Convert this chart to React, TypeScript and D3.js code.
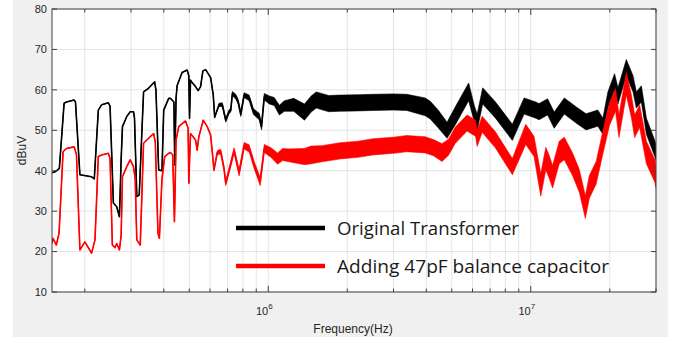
import React from "react";
import * as d3 from "d3";

// y axis ticks (dBuV)
const levelTicks = [10, 20, 30, 40, 50, 60, 70, 80];
// labelled decades on the frequency axis
const decadeTicks = [1e6, 1e7];

// trace points: [frequency MHz, level dBuV, noise half-width dB]
const originalTrace: [number, number, number][] = [
  [0.15, 39.5, 0], [0.155, 39.8, 0], [0.16, 40.6, 0], [0.1668, 56.7, 0],
  [0.1702, 57.0, 0], [0.1822, 57.5, 0], [0.1843, 57.0, 0], [0.1916, 39.0, 0],
  [0.2122, 38.5, 0], [0.2174, 38.0, 0], [0.2252, 55.0, 0], [0.2318, 56.3, 0],
  [0.2459, 56.8, 0], [0.2496, 56.0, 0], [0.257, 32.0, 0], [0.2646, 31.1, 0],
  [0.271, 28.6, 0], [0.2751, 42.7, 0], [0.2783, 50.9, 0], [0.289, 53.4, 0],
  [0.2979, 54.6, 0], [0.3066, 54.6, 0], [0.3093, 53.0, 0], [0.3156, 33.6, 0],
  [0.3224, 34.0, 0], [0.3349, 59.5, 0], [0.35, 60.4, 0], [0.369, 62.0, 0],
  [0.3733, 60.0, 0], [0.3824, 40.2, 0], [0.3936, 40.0, 0], [0.3996, 55.0, 0],
  [0.4176, 57.9, 0], [0.4239, 57.9, 0], [0.437, 57.0, 0], [0.4403, 41.4, 0],
  [0.4454, 58.0, 0], [0.4494, 61.0, 0], [0.4695, 64.3, 0], [0.4907, 64.9, 0],
  [0.4981, 63.5, 0], [0.5012, 53.0, 0], [0.5056, 62.4, 0], [0.5101, 62.0, 0],
  [0.5284, 60.8, 0], [0.5406, 59.8, 0], [0.5522, 60.8, 0], [0.5636, 64.7, 0],
  [0.5772, 65.0, 0], [0.5942, 63.7, 0], [0.6033, 63.0, 0], [0.6172, 58.7, 0],
  [0.625, 53.2, 0], [0.6492, 56.3, 0.4], [0.6683, 56.3, 0.5], [0.6886, 52.5, 0.5],
  [0.709, 54.6, 0.5], [0.7197, 55.0, 0.5], [0.7299, 59.1, 0.5], [0.7522, 58.3, 0.6],
  [0.7675, 57.1, 0.6], [0.7859, 54.0, 0.6], [0.8091, 58.7, 0.6], [0.8456, 58.0, 0.7],
  [0.8784, 54.6, 0.7], [0.9237, 53.4, 0.8], [0.9426, 50.9, 0.8], [0.9654, 58.3, 0.8],
  [1.009, 57.5, 1.0], [1.054, 57.1, 1.0], [1.102, 55.0, 1.2], [1.152, 56.0, 1.3],
  [1.25, 56.3, 1.6], [1.374, 54.5, 2.0], [1.457, 56.5, 2.0], [1.523, 57.5, 2.0],
  [1.7, 56.6, 2.0], [1.871, 56.7, 2.0], [2.2, 56.8, 2.0], [2.503, 56.9, 2.0],
  [3.0, 57.0, 2.0], [3.37, 56.9, 2.0], [3.96, 55.8, 2.2], [4.14, 55.0, 2.2],
  [4.44, 52.8, 2.2], [4.8, 50.0, 2.0], [5.16, 53.6, 2.2], [5.8, 59.5, 2.2],
  [6.1, 54.0, 2.0], [6.25, 52.0, 2.0], [6.56, 58.5, 2.0], [7.34, 55.0, 2.0],
  [8.51, 49.5, 2.0], [9.43, 56.0, 2.0], [10.45, 55.0, 2.0], [10.76, 54.6, 2.0],
  [11.59, 55.8, 2.0], [12.28, 52.5, 2.0], [13.42, 56.0, 2.0], [14.88, 53.8, 2.0],
  [16.24, 52.1, 2.0], [18.01, 53.0, 2.0], [18.83, 51.0, 2.0], [19.67, 57.5, 2.0],
  [20.86, 62.0, 2.0], [21.49, 58.5, 2.0], [23.12, 65.5, 2.0], [24.53, 61.5, 2.0],
  [25.25, 57.5, 2.0], [26.39, 59.0, 2.0], [27.58, 51.0, 2.0], [29.68, 45.5, 2.0],
  [30, 44.5, 2.0],
];

const balancedTrace: [number, number, number][] = [
  [0.15, 22.0, 0], [0.1514, 23.3, 0], [0.1558, 21.6, 0], [0.1596, 24.6, 0],
  [0.1653, 44.7, 0], [0.1702, 45.5, 0], [0.1822, 45.9, 0], [0.1859, 44.0, 0],
  [0.1916, 20.4, 0], [0.2002, 22.4, 0], [0.2062, 21.0, 0], [0.2122, 19.6, 0],
  [0.2187, 22.9, 0], [0.2252, 43.5, 0], [0.2318, 43.9, 0], [0.2459, 44.3, 0],
  [0.2496, 43.0, 0], [0.2547, 21.6, 0], [0.2609, 21.0, 0], [0.2646, 22.0, 0],
  [0.271, 20.4, 0], [0.2751, 24.0, 0], [0.2783, 38.5, 0], [0.289, 41.0, 0],
  [0.2979, 42.7, 0], [0.3066, 41.0, 0], [0.3112, 38.0, 0], [0.3156, 22.9, 0],
  [0.3253, 21.6, 0], [0.3349, 46.8, 0], [0.3448, 47.6, 0], [0.3603, 48.8, 0],
  [0.3658, 49.2, 0], [0.3713, 47.0, 0], [0.38, 24.5, 0], [0.3848, 23.3, 0],
  [0.3936, 38.0, 0], [0.4032, 43.5, 0], [0.4176, 44.3, 0], [0.4239, 44.5, 0],
  [0.4325, 43.9, 0], [0.4391, 27.4, 0], [0.4454, 47.6, 0], [0.456, 50.9, 0],
  [0.4629, 51.3, 0], [0.4839, 52.3, 0], [0.495, 50.5, 0], [0.4981, 36.9, 0],
  [0.5056, 49.2, 0], [0.5284, 47.6, 0], [0.5359, 45.1, 0], [0.544, 48.4, 0],
  [0.5651, 52.5, 0], [0.5854, 50.9, 0], [0.6033, 48.8, 0], [0.6211, 40.2, 0.3],
  [0.6394, 44.5, 0.5], [0.659, 44.7, 0.6], [0.6784, 40.5, 0.6], [0.6886, 36.9, 0.6],
  [0.7197, 41.7, 0.7], [0.741, 45.0, 0.7], [0.7743, 39.5, 0.8], [0.8091, 46.2, 0.8],
  [0.8456, 45.5, 0.9], [0.8838, 41.4, 0.9], [0.9318, 37.3, 1.0], [0.9654, 45.5, 1.0],
  [1.024, 44.5, 1.2], [1.085, 43.0, 1.4], [1.134, 44.0, 1.5], [1.2, 43.8, 1.6],
  [1.374, 43.5, 2.0], [1.457, 43.9, 2.2], [1.6, 44.2, 2.0], [1.871, 44.9, 2.0],
  [2.2, 45.3, 2.0], [2.503, 45.9, 2.0], [3.0, 46.3, 2.0], [3.37, 46.7, 2.0],
  [3.96, 46.4, 2.0], [4.26, 45.7, 2.0], [4.59, 44.5, 2.2], [4.86, 45.8, 2.0],
  [5.16, 48.8, 2.0], [5.72, 51.8, 2.0], [6.16, 50.5, 2.0], [6.25, 48.0, 2.0],
  [6.53, 51.5, 2.0], [7.34, 47.6, 2.0], [8.51, 41.0, 2.0], [9.57, 49.0, 2.5],
  [10.29, 46.0, 2.5], [10.92, 36.5, 2.8], [11.41, 43.0, 2.8], [11.75, 41.0, 2.8],
  [12.11, 38.5, 2.8], [12.84, 44.5, 2.8], [13.42, 45.5, 2.8], [14.45, 41.5, 2.8],
  [15.31, 37.5, 2.8], [16.14, 31.0, 2.8], [16.72, 36.0, 2.8], [17.75, 39.5, 2.8],
  [18.83, 47.0, 2.8], [19.95, 54.0, 2.8], [21.04, 57.5, 2.8], [21.68, 51.0, 2.8],
  [23.12, 61.5, 2.8], [24.16, 56.0, 2.8], [24.88, 51.0, 2.8], [25.99, 53.5, 2.8],
  [27.58, 44.5, 2.8], [29.68, 40.0, 2.8], [30, 38.5, 2.8],
];

const legendItems = [
  { label: "Original Transformer", color: "#000000", width: 182 },
  { label: "Adding 47pF balance capacitor", color: "#ff0000", width: 272 },
];

const W = 682;
const H = 343;
const m = { left: 52, right: 656, top: 9, bottom: 292 };

export default function App() {
  const x = d3.scaleLog().domain([0.15e6, 30e6]).range([m.left, m.right]);
  const y = d3.scaleLinear().domain([10, 80]).range([m.bottom, m.top]);
  const allTicks = x.ticks(); // 2e5 ... 3e7 (every multiple)

  const line = d3
    .line<[number, number, number]>()
    .x((d) => x(d[0] * 1e6))
    .y((d) => y(d[1]));
  const band = d3
    .area<[number, number, number]>()
    .x((d) => x(d[0] * 1e6))
    .y0((d) => y(d[1] - d[2]))
    .y1((d) => y(d[1] + d[2]));

  const axisColor = "#404040";
  const font = "'Liberation Sans', Arial, sans-serif";

  const drawTrace = (data: [number, number, number][], color: string) => (
    <g>
      <path d={band(data) || ""} fill={color} stroke={color} strokeWidth={0.6} />
      <path d={line(data) || ""} fill="none" stroke={color} strokeWidth={1.6} strokeLinejoin="round" />
    </g>
  );

  return (
    <svg width={W} height={H} style={{ position: "absolute", left: 0, top: 0 }}>
      <rect x={0} y={0} width={W} height={H} fill="#ffffff" />
      <rect x={13} y={0} width={655} height={337} fill="#f0f0f0" />
      <rect x={m.left} y={m.top} width={m.right - m.left} height={m.bottom - m.top} fill="#ffffff" />
      <defs>
        <clipPath id="plot">
          <rect x={m.left} y={m.top} width={m.right - m.left} height={m.bottom - m.top} />
        </clipPath>
      </defs>

      {/* grid */}
      <g stroke="#e4e4e4" strokeWidth={1}>
        {allTicks.map((t) => (
          <line key={"gx" + t} x1={x(t)} x2={x(t)} y1={m.top} y2={m.bottom} />
        ))}
        {levelTicks.map((t) => (
          <line key={"gy" + t} x1={m.left} x2={m.right} y1={y(t)} y2={y(t)} />
        ))}
      </g>

      <g clipPath="url(#plot)">
        {drawTrace(originalTrace, "#000000")}
        {drawTrace(balancedTrace, "#ff0000")}
      </g>

      {/* legend, no box */}
      {legendItems.map((d, i) => {
        const ly = 228 + i * 38;
        return (
          <g key={d.label}>
            <line x1={236} x2={325} y1={ly} y2={ly} stroke={d.color} strokeWidth={4.5} />
            <text
              x={337}
              y={ly + 7}
              fontFamily="'Open Sans', 'Noto Sans', sans-serif"
              fontSize={19}
              fill="#1a1a1a"
              textLength={d.width}
              lengthAdjust="spacingAndGlyphs"
            >
              {d.label}
            </text>
          </g>
        );
      })}

      {/* axes box */}
      <rect
        x={m.left}
        y={m.top}
        width={m.right - m.left}
        height={m.bottom - m.top}
        fill="none"
        stroke={axisColor}
        strokeWidth={1}
      />
      <g stroke={axisColor} strokeWidth={1}>
        {allTicks.map((t) => {
          const len = decadeTicks.includes(t) ? 6 : 3.5;
          return (
            <g key={"tx" + t}>
              <line x1={x(t)} x2={x(t)} y1={m.bottom} y2={m.bottom - len} />
              <line x1={x(t)} x2={x(t)} y1={m.top} y2={m.top + len} />
            </g>
          );
        })}
        {levelTicks.map((t) => (
          <g key={"ty" + t}>
            <line x1={m.left} x2={m.left + 5} y1={y(t)} y2={y(t)} />
            <line x1={m.right} x2={m.right - 5} y1={y(t)} y2={y(t)} />
          </g>
        ))}
      </g>

      <g fontFamily={font} fontSize={11} fill="#262626">
        {levelTicks.map((t) => (
          <text key={"ly" + t} x={m.left - 5} y={y(t)} dy="0.35em" textAnchor="end">
            {t}
          </text>
        ))}
        {decadeTicks.map((t) => (
          <text key={"lx" + t} x={x(t) - 4} y={315} textAnchor="middle">
            10
            <tspan dy={-6} fontSize={8}>
              {Math.round(Math.log10(t))}
            </tspan>
          </text>
        ))}
        <text x={353} y={333} textAnchor="middle" fontSize={12}>
          Frequency(Hz)
        </text>
        <text transform={`translate(26,${(m.top + m.bottom) / 2}) rotate(-90)`} textAnchor="middle" fontSize={12}>
          dBuV
        </text>
      </g>
    </svg>
  );
}
